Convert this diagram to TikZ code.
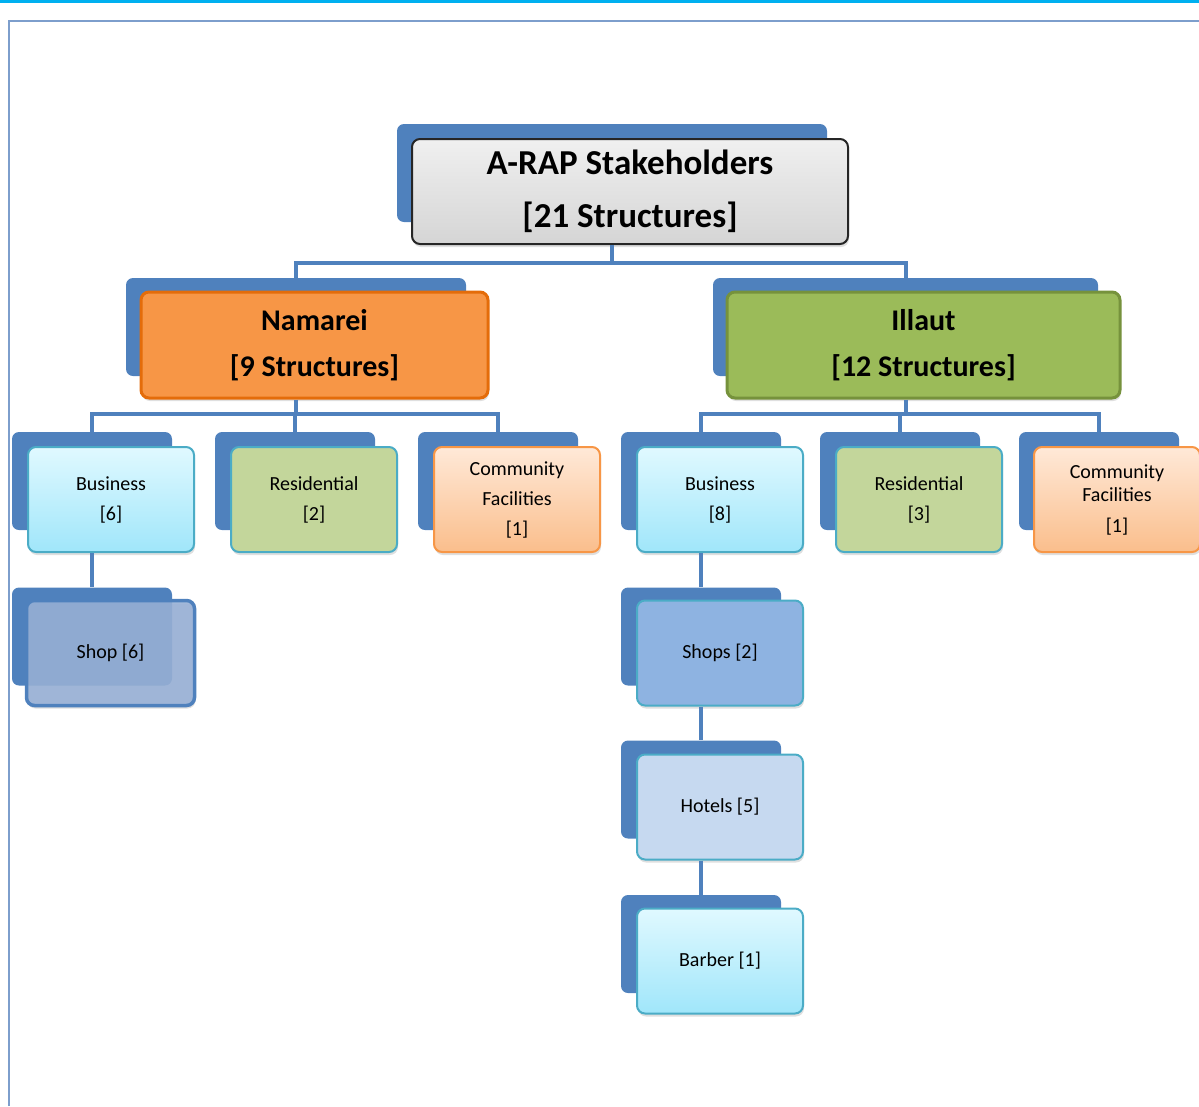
\documentclass[tikz,border=0pt]{standalone}
\usepackage{fontspec}
\setmainfont{Carlito}
\usepackage{xcolor}
\usepackage{tikz}
\usetikzlibrary{positioning,shadows,calc}
\definecolor{linkblue}{RGB}{79,129,189}
\definecolor{frameblue}{RGB}{125,158,204}
\definecolor{topline}{RGB}{0,176,240}
\definecolor{orangefill}{RGB}{247,150,70}
\definecolor{orangeline}{RGB}{228,108,10}
\definecolor{greenfill}{RGB}{155,187,89}
\definecolor{greenline}{RGB}{118,146,60}
\definecolor{cyantop}{RGB}{224,249,255}
\definecolor{cyanbot}{RGB}{160,230,250}
\definecolor{tealline}{RGB}{75,172,198}
\definecolor{resfill}{RGB}{195,214,155}
\definecolor{comtop}{RGB}{255,233,216}
\definecolor{combot}{RGB}{250,190,140}
\definecolor{shopfill}{RGB}{151,176,214}
\definecolor{shopsfill}{RGB}{142,179,225}
\definecolor{hotelfill}{RGB}{198,217,240}

\begin{document}
\begin{tikzpicture}[
    x=1pt, y=-1pt,
    back/.style={fill=linkblue, rounded corners=7pt, minimum width=160pt, minimum height=98pt, inner sep=0pt},
    box/.style={draw, line width=2pt, rounded corners=8pt, minimum width=166pt, minimum height=105pt, align=center, inner sep=0pt, font=\fontsize{20}{30}\selectfont, drop shadow={opacity=0.25, shadow xshift=1pt, shadow yshift=-3pt}},
    bigbox/.style={box, line width=3pt, minimum height=106pt, font=\bfseries\fontsize{30}{46}\selectfont},
    biz/.style={box, draw=tealline, top color=cyantop, bottom color=cyanbot},
    res/.style={box, draw=tealline, fill=resfill},
    com/.style={box, draw=orangefill, top color=comtop, bottom color=combot},
    link/.style={draw=linkblue, line width=4pt}
]
\useasboundingbox (0,0) rectangle (1199,1106);

% Page frame
\draw[topline, line width=3pt] (0,1) -- (1199,1);
\draw[frameblue, line width=2pt] (9,1106) -- (9,21) -- (1199,21);

% Root
\node[back, minimum width=430pt] (topB) at (612,173) {};
\node[box, draw=black!85, top color=gray!12, bottom color=gray!33, minimum width=436pt, font=\bfseries\fontsize{35}{53}\selectfont] (top) at (630,191.5) {A-RAP Stakeholders\\{[21 Structures]}};

% Level 1
\node[back, minimum width=340pt] (namB) at (296,327) {};
\node[bigbox, draw=orangeline, fill=orangefill, minimum width=347pt] (nam) at (314.5,345) {Namarei\\{[9 Structures]}};

\node[back, minimum width=385pt] (illB) at (905.5,327) {};
\node[bigbox, draw=greenline, fill=greenfill, minimum width=393pt] (ill) at (923.5,345) {Illaut\\{[12 Structures]}};

% Level 2 - Namarei
\node[back] (bizAB) at (92,481) {};
\node[biz] (bizA) at (111,499.5) {Business\\{[6]}};
\node[back] (resAB) at (295,481) {};
\node[res] (resA) at (314,499.5) {Residential\\{[2]}};
\node[back] (comAB) at (498,481) {};
\node[com] (comA) at (517,499.5) {Community\\Facilities\\{[1]}};

% Level 2 - Illaut
\node[back] (bizBB) at (701,481) {};
\node[biz] (bizB) at (720,499.5) {Business\\{[8]}};
\node[back] (resBB) at (900,481) {};
\node[res] (resB) at (919,499.5) {Residential\\{[3]}};
\node[back] (comBB) at (1099,481) {};
\node[com, font=\fontsize{20}{23}\selectfont] (comB) at (1117,499.5) {Community\\Facilities\\[8pt]{[1]}};

% Level 3
\node[back] (shopB) at (92,636.5) {};
\node[box, draw=linkblue, line width=3.5pt, fill=shopfill, fill opacity=0.88, text opacity=1, minimum width=168pt, drop shadow={opacity=0}] (shop) at (110.5,653) {Shop [6]};

\node[back] (shopsB) at (701,636.5) {};
\node[box, draw=tealline, fill=shopsfill] (shops) at (720,653) {Shops [2]};
\node[back] (hotelB) at (701,789.5) {};
\node[box, draw=tealline, fill=hotelfill] (hotel) at (720,807) {Hotels [5]};
\node[back] (barbB) at (701,944) {};
\node[biz] (barb) at (720,961) {Barber [1]};

% Connectors
\draw[link] (topB |- top.south) -- ++(0,18) coordinate (j0);
\draw[link] (j0) -| (namB.north);
\draw[link] (j0) -| (illB.north);

\draw[link] (namB |- nam.south) -- ++(0,14) coordinate (j1);
\draw[link] (j1) -| (bizAB.north);
\draw[link] (j1) -| (resAB.north);
\draw[link] (j1) -| (comAB.north);

\draw[link] (illB |- ill.south) -- ++(0,14) coordinate (j2);
\draw[link] (j2) -| (bizBB.north);
\draw[link] (j2) -| (resBB.north);
\draw[link] (j2) -| (comBB.north);

\draw[link] (bizAB |- bizA.south) -- (shopB.north);
\draw[link] (bizBB |- bizB.south) -- (shopsB.north);
\draw[link] (shopsB |- shops.south) -- (hotelB.north);
\draw[link] (hotelB |- hotel.south) -- (barbB.north);

\end{tikzpicture}
\end{document}
